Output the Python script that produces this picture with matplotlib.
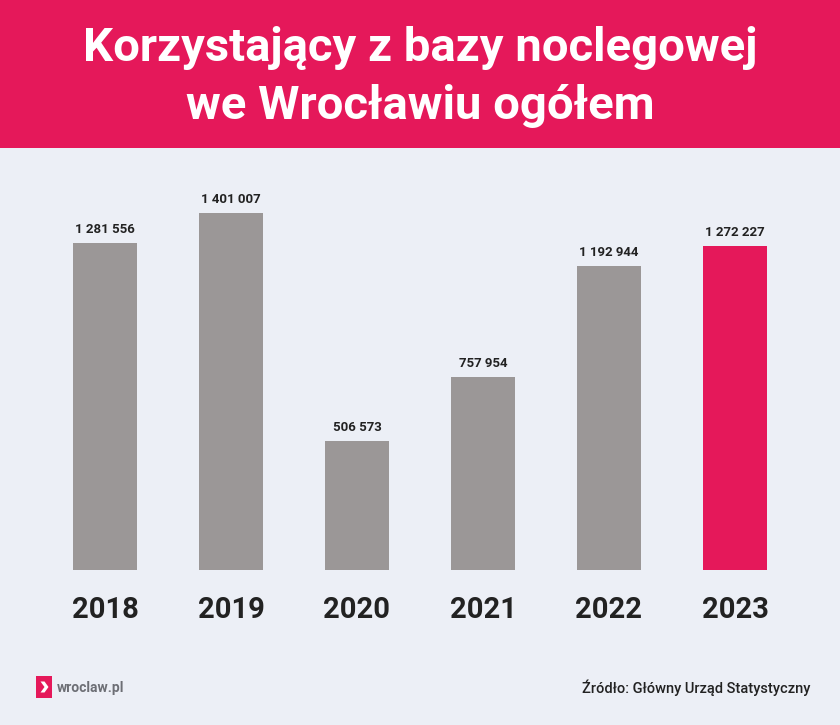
import matplotlib
matplotlib.use("Agg")
import matplotlib.pyplot as plt
from matplotlib.patches import Rectangle, Polygon

years = ["2018", "2019", "2020", "2021", "2022", "2023"]
values = [1281556, 1401007, 506573, 757954, 1192944, 1272227]
value_labels = ["1 281 556", "1 401 007", "506 573", "757 954", "1 192 944", "1 272 227"]
title_lines = ["Korzystający z bazy noclegowej", "we Wrocławiu ogółem"]
source = "Źródło: Główny Urząd Statystyczny"
brand = "wroclaw.pl"

RED = "#e5185a"
GRAY = "#9b9797"
BG = "#eceff6"
DARK = "#222222"

W, H = 840, 725
fig = plt.figure(figsize=(W / 100, H / 100), dpi=100)
fig.patch.set_facecolor(BG)

# header band
fig.patches.append(Rectangle((0, 1 - 148 / H), 1, 148 / H, transform=fig.transFigure,
                             facecolor=RED, edgecolor="none", zorder=0))
fig.text(0.5, 1 - 48 / H, title_lines[0], ha="center", va="center", color="white",
         fontsize=34, fontweight="bold", family="Roboto")
fig.text(0.5, 1 - 106 / H, title_lines[1], ha="center", va="center", color="white",
         fontsize=34, fontweight="bold", family="Roboto")

# axes
left, right = 42, 798
bottom, top = 570, 148
ax = fig.add_axes([left / W, 1 - bottom / H, (right - left) / W, (bottom - top) / H])
ax.set_facecolor("none")
ymax = 1401007 * (bottom - top) / 357
ax.set_xlim(-0.5, len(years) - 0.5)
ax.set_ylim(0, ymax)
colors = [GRAY] * (len(years) - 1) + [RED]
x = list(range(len(years)))
ax.bar(x, values, width=64 / 126, color=colors, edgecolor="none")
for xi, v, lab in zip(x, values, value_labels):
    ax.annotate(lab, (xi, v), xytext=(0, 5), textcoords="offset points",
                ha="center", va="bottom", fontsize=9.5, fontweight="semibold",
                color=DARK, family="Roboto")
ax.set_xticks(x)
ax.set_xticklabels(years, fontsize=21, fontweight="bold", color=DARK, family="Roboto")
ax.tick_params(axis="x", length=0, pad=19)
ax.set_yticks([])
for s in ax.spines.values():
    s.set_visible(False)

# logo
fig.patches.append(Rectangle((36 / W, 1 - 698 / H), 16 / W, 22 / H, transform=fig.transFigure,
                             facecolor=RED, edgecolor="none"))
chev = [(40.5, 681.5), (44.5, 681.5), (48.5, 687), (44.5, 692.5), (40.5, 692.5), (44.5, 687)]
fig.patches.append(Polygon([(px / W, 1 - py / H) for px, py in chev], closed=True,
                           transform=fig.transFigure, facecolor="white", edgecolor="none"))
fig.text(57 / W, 1 - 688 / H, brand, ha="left", va="center", fontsize=10,
         fontweight="bold", color="#6d6f75", family="Roboto")

fig.text(810 / W, 1 - 688 / H, source, ha="right", va="center", fontsize=10.5,
         fontweight="medium", color=DARK, family="Roboto")

fig.savefig("out.png", dpi=100, facecolor=BG)
